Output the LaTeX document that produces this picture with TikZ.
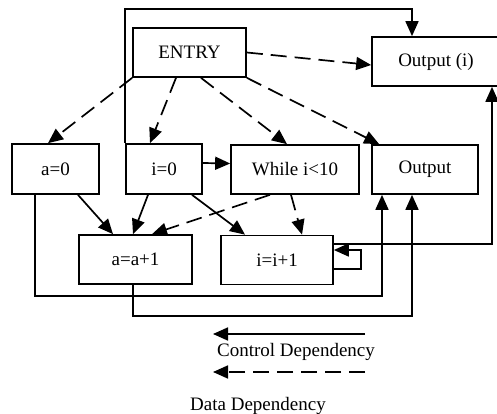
\documentclass[tikz,border=0pt]{standalone}
\usepackage{fontspec}
\setmainfont{Liberation Serif}
\usetikzlibrary{arrows.meta}
\begin{document}
\begin{tikzpicture}[x=1pt,y=-1pt,
  box/.style={draw,line width=1.7pt,minimum height=49pt,inner sep=0pt,font=\fontsize{19}{21}\selectfont},
  ctrl/.style={line width=1.7pt,-{Triangle[length=15pt,width=13pt]}},
  data/.style={ctrl,dash pattern=on 16pt off 8pt},
  lbl/.style={font=\fontsize{19}{21}\selectfont,inner sep=0pt}]
\useasboundingbox (0,0) rectangle (497,414);
\begin{scope}
\clip (0,0) rectangle (497,414);
\node[box,minimum width=113pt] (entry) at (189.5,52.5) {ENTRY};
\node[box,minimum width=128pt] (outi) at (436,61.5) {Output (i)};
\node[box,minimum width=87pt,minimum height=50pt] (a0) at (55.5,169) {a=0};
\node[box,minimum width=76pt,minimum height=50pt] (i0) at (164,169) {i=0};
\node[box,minimum width=128pt] (wh) at (295,169.5) {While i{<}10};
\node[box,minimum width=106pt] (out) at (425,169.5) {Output};
\node[box,minimum width=113pt] (aa) at (135.5,259.5) {a=a+1};
\node[box,minimum width=112pt] (ii) at (277,260) {i=i+1};

\coordinate (topc) at (412,9);
\coordinate (b1) at (382,296);
\coordinate (b2) at (412,316);

% data dependencies
\draw[data] (entry.south west) -- ([xshift=-7.5pt]a0.north);
\draw[data] ([xshift=-13.5pt]entry.south) -- ([xshift=-14pt]i0.north);
\draw[data] ([xshift=11.5pt]entry.south) -- ([xshift=-8pt]wh.north);
\draw[data] (entry.south east) -- ([xshift=8pt]out.north west);
\draw[data] (entry.east) -- ([yshift=-3.5pt]outi.west);
\draw[data] ([xshift=-25pt]wh.south) -- ([xshift=16.5pt]aa.north);
\draw[data] ([xshift=-4pt]wh.south) -- ([xshift=25pt]ii.north);

% control dependencies
\draw[ctrl] ([yshift=6pt]i0.east) -- ([yshift=6pt]wh.west);
\draw[ctrl] ([xshift=22.5pt]a0.south) -- ([xshift=-22.5pt]aa.north);
\draw[ctrl] ([xshift=-16pt]i0.south) -- ([xshift=-2.5pt]aa.north);
\draw[ctrl] ([xshift=28pt]i0.south) -- ([xshift=-32pt]ii.north);
\draw[ctrl] (i0.north west) |- (topc) -- ([xshift=-24pt]outi.north);
\draw[ctrl] ([yshift=-9pt]ii.east) -- ++(27,0) |- ([yshift=10pt]ii.east);
\draw[ctrl] ([yshift=16pt]ii.east) -| ([xshift=56pt]outi.south);
\draw[ctrl] ([xshift=-20.5pt]a0.south) |- (b1) -- ([xshift=-43pt]out.south);
\draw[ctrl] ([xshift=-2.5pt]aa.south) |- (b2) -- ([xshift=-13pt]out.south);
\end{scope}

% legend
\coordinate (l1s) at (365,334);
\coordinate (l1e) at (213,334);
\coordinate (l2s) at (365,372);
\coordinate (l2e) at (213,372);
\draw[ctrl] (l1s) -- (l1e);
\draw[data] (l2s) -- (l2e);
\node[lbl] (lc) at (296,352) {Control Dependency};
\node[lbl] (ld) at (258,406) {Data Dependency};
\end{tikzpicture}
\end{document}
